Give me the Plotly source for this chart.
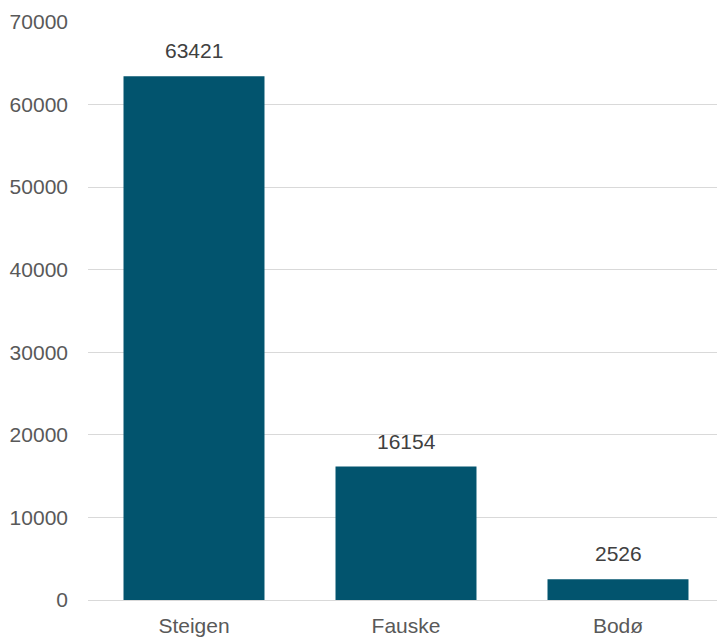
import plotly.graph_objects as go

categories = ["Steigen", "Fauske", "Bodø"]
values = [63421, 16154, 2526]
y_ticks = [0, 10000, 20000, 30000, 40000, 50000, 60000, 70000]

W, H = 717, 637
left, right, top, bottom = 88, 0, 22, 37

fig = go.Figure()
fig.add_trace(go.Bar(
    x=list(range(len(categories))), y=values,
    marker=dict(color="#02546E", line=dict(width=0)),
    width=0.665,
    hoverinfo="skip",
))
for i, v in enumerate(values):
    fig.add_annotation(x=i, y=v, text=str(v), showarrow=False,
                       yanchor="bottom", yshift=12,
                       font=dict(family="Liberation Sans, Arial", size=21, color="#404040"))

fig.update_layout(
    width=W, height=H,
    margin=dict(l=left, r=right, t=top, b=bottom, pad=0, autoexpand=False),
    plot_bgcolor="white", paper_bgcolor="white",
    showlegend=False,
    font=dict(family="Liberation Sans, Arial", size=21, color="#595959"),
    xaxis=dict(
        tickmode="array", tickvals=list(range(len(categories))), ticktext=categories,
        range=[-0.5, 2.467], showgrid=False, zeroline=False,
        showline=True, linecolor="#d9d9d9", linewidth=1,
        ticks="outside", ticklen=7, tickcolor="rgba(0,0,0,0)",
        fixedrange=True, automargin=False,
    ),
    yaxis=dict(
        range=[0, 70000], tickmode="array", tickvals=y_ticks,
        ticktext=[str(t) for t in y_ticks],
        showgrid=True, gridcolor="#d9d9d9", gridwidth=1, zeroline=False,
        showline=False, ticklabelstandoff=19, fixedrange=True, automargin=False,
    ),
)
fig.write_html(
    "out.html",
    config={"displayModeBar": False},
    post_script="document.body.style.margin='0';document.body.style.overflow='hidden';",
)
